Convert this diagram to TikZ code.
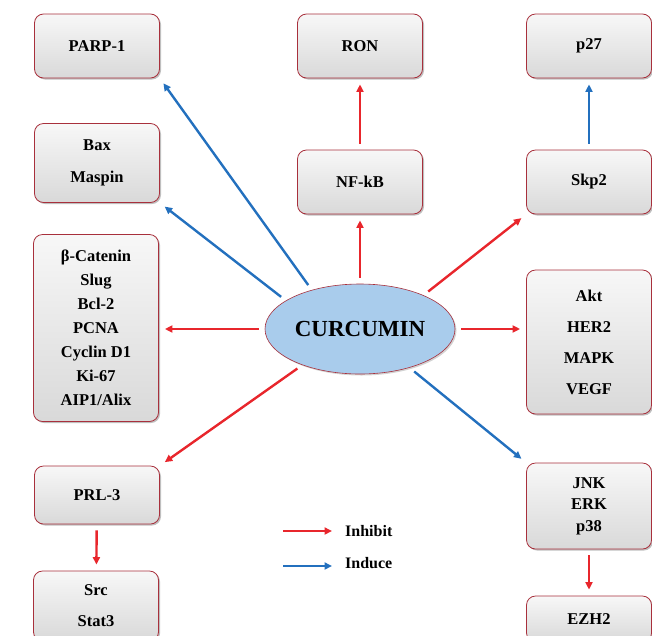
\documentclass[tikz,border=0pt]{standalone}
\usepackage{fontspec}
\setmainfont{Liberation Serif}
\usepackage{tikz}
\usetikzlibrary{arrows.meta,shapes.geometric,shadows}
\definecolor{inhred}{HTML}{E8262C}
\definecolor{indblue}{HTML}{2370BE}
\definecolor{boxrim}{HTML}{A8303C}
\definecolor{curblue}{HTML}{A9CCEC}

\begin{document}
\begin{tikzpicture}[x=1pt, y=-1pt, >={Triangle[length=7.5pt,width=7pt]},
    box/.style={draw=boxrim, line width=0.8pt, rounded corners=9pt,
        top color=gray!6, bottom color=gray!30, minimum width=125pt, minimum height=64pt,
        align=center, font=\bfseries\fontsize{16.5}{24}\selectfont,
        drop shadow={shadow xshift=1.5pt, shadow yshift=-1.5pt, opacity=0.5}},
    inhibit/.style={->, draw=inhred, line width=2.4pt, shorten <=6pt, shorten >=6pt},
    induce/.style={->, draw=indblue, line width=2.4pt, shorten <=6pt, shorten >=6pt}]
    \useasboundingbox (0,0) rectangle (652,635);
    \clip (0,0) rectangle (652,635);

    \node[ellipse, draw=boxrim, line width=0.6pt, fill=curblue, minimum width=190pt,
        minimum height=90pt, inner sep=0pt, font=\bfseries\fontsize{23}{26}\selectfont,
        drop shadow={shadow xshift=1.5pt, shadow yshift=-1.5pt, opacity=0.35}] (n_cur) at (360,329) {CURCUMIN};

    \node[box] (n_parp) at (97,46) {PARP-1};
    \node[box] (n_ron) at (360,46) {RON};
    \node[box] (n_p27) at (589,46) {p27};
    \node[box, minimum height=79pt] (n_bax) at (97,163) {Bax\\[8pt]Maspin};
    \node[box] (n_nfkb) at (360,182) {NF-kB};
    \node[box] (n_skp) at (589,182) {Skp2};
    \node[box, minimum height=187pt] (n_beta) at (96,328)
        {β-Catenin\\Slug\\Bcl-2\\PCNA\\Cyclin D1\\Ki-67\\AIP1/Alix};
    \node[box, minimum height=144pt] (n_akt) at (589,342) {Akt\\[7pt]HER2\\[7pt]MAPK\\[7pt]VEGF};
    \node[box, minimum height=58pt] (n_prl) at (97,495) {PRL-3};
    \node[box, minimum height=70pt] (n_src) at (96,606) {Src\\[7pt]Stat3};
    \node[box, minimum height=86pt] (n_jnk) at (589,506) {JNK\\[-2.5pt]ERK\\[-2.5pt]p38};
    \node[box, minimum height=46pt] (n_ezh) at (589,619) {EZH2};

    \path (n_cur.141) edge[induce] (n_parp.south east)
          (n_cur.159) edge[induce] (n_bax.south east)
          (n_cur.west) edge[inhibit] (n_cur.west -| n_beta.east)
          (n_cur.212) edge[inhibit] (n_prl.north east)
          (n_cur.north) edge[inhibit] (n_nfkb.south)
          (n_nfkb) edge[inhibit] (n_ron)
          (n_cur.28) edge[inhibit] (n_skp.south west)
          (n_skp) edge[induce] (n_p27)
          (n_cur.east) edge[inhibit] (n_cur.east -| n_akt.west)
          (n_cur.322) edge[induce] (n_jnk.north west)
          (n_prl) edge[inhibit] (n_src)
          (n_jnk) edge[inhibit] (n_ezh);

    % legend
    \coordinate (c_inh) at (283,531);
    \coordinate (c_ind) at (283,566);
    \node[anchor=west, inner sep=0pt, font=\bfseries\fontsize{16}{18}\selectfont] (l_inh) at (345,531) {Inhibit};
    \node[anchor=west, inner sep=0pt, font=\bfseries\fontsize{16}{18}\selectfont] (l_ind) at (345,563) {Induce};
    \draw[inhibit, shorten <=0pt, shorten >=13pt] (c_inh) -- (c_inh -| l_inh.west);
    \draw[induce, shorten <=0pt, shorten >=13pt] (c_ind) -- (c_ind -| l_ind.west);
\end{tikzpicture}
\end{document}
